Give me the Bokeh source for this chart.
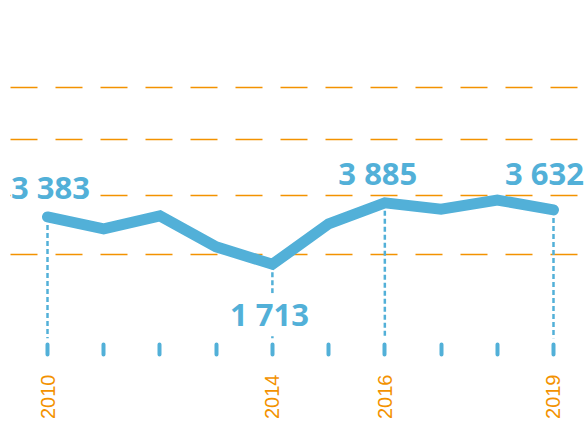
from math import pi
from bokeh.plotting import figure
from bokeh.models import Range1d, FixedTicker, ColumnDataSource
from bokeh.core.properties import value
from bokeh.embed import file_html
from bokeh.resources import INLINE

# ---- data ----
years = [2010, 2011, 2012, 2013, 2014, 2015, 2016, 2017, 2018, 2019]
visitors = [3383, 2960, 3420, 2330, 1713, 3140, 3885, 3660, 3980, 3632]
labelled_years = [2010, 2014, 2016, 2019]
labelled_values = [3383, 1713, 3885, 3632]
label_texts = ["3 383", "1 713", "3 885", "3 632"]
tick_label_years = [2010, 2014, 2016, 2019]
grid_values = [2050, 4150, 6100, 7950]

# ---- style ----
BLUE = "#52B0D8"
ORANGE = "#F39200"
label_x_offsets = [3, -3, -7, -9]
label_y_offsets = [-30, 50, -30, -37]
label_bg = ["white", "white", "rgba(255,255,255,0)", "rgba(255,255,255,0)"]
dotted_bottom = -900

p = figure(width=586, height=421, output_backend="svg", toolbar_location=None,
           x_range=Range1d(2009.164, 2019.587), y_range=Range1d(-1117, 11021),
           min_border=0, y_axis_location=None, outline_line_color=None,
           background_fill_color="white", border_fill_color="white")

p.xgrid.visible = False
p.ygrid.ticker = FixedTicker(ticks=grid_values)
p.ygrid.grid_line_color = ORANGE
p.ygrid.grid_line_width = 1.5
p.ygrid.grid_line_dash = "27 18"
p.ygrid.grid_line_dash_offset = 35

ax = p.xaxis[0]
ax.ticker = FixedTicker(ticks=years)
ax.major_label_overrides = {y: (str(y) if y in tick_label_years else "") for y in years}
ax.axis_line_color = None
ax.major_tick_in = 0
ax.major_tick_out = 10
ax.major_tick_line_width = 4
ax.major_tick_line_cap = "round"
ax.major_tick_line_color = BLUE
ax.minor_tick_line_color = None
ax.major_label_orientation = pi / 2
ax.major_label_standoff = 20
ax.major_label_text_font = "Liberation Sans"
ax.major_label_text_font_size = "20px"
ax.major_label_text_color = ORANGE

# dotted drop lines
p.segment(x0=labelled_years, y0=labelled_values, x1=labelled_years,
          y1=[dotted_bottom] * len(labelled_years),
          line_color=BLUE, line_width=2.5, line_dash="5 3")

# value labels (drawn before the line so the line stays on top)
src = ColumnDataSource(dict(x=labelled_years, y=labelled_values, text=label_texts,
                            xo=label_x_offsets, yo=label_y_offsets, bg=label_bg))
p.text(x="x", y="y", text="text", x_offset="xo", y_offset="yo", source=src,
       text_align="center", text_baseline="alphabetic",
       text_font=value("Open Sans"), text_font_style="bold", text_font_size="31px",
       text_color=BLUE, background_fill_color="bg")

# main line
p.line(years, visitors, line_width=11, line_color=BLUE, line_cap="round", line_join="miter")

open("out.html", "w").write(file_html(p, INLINE))
